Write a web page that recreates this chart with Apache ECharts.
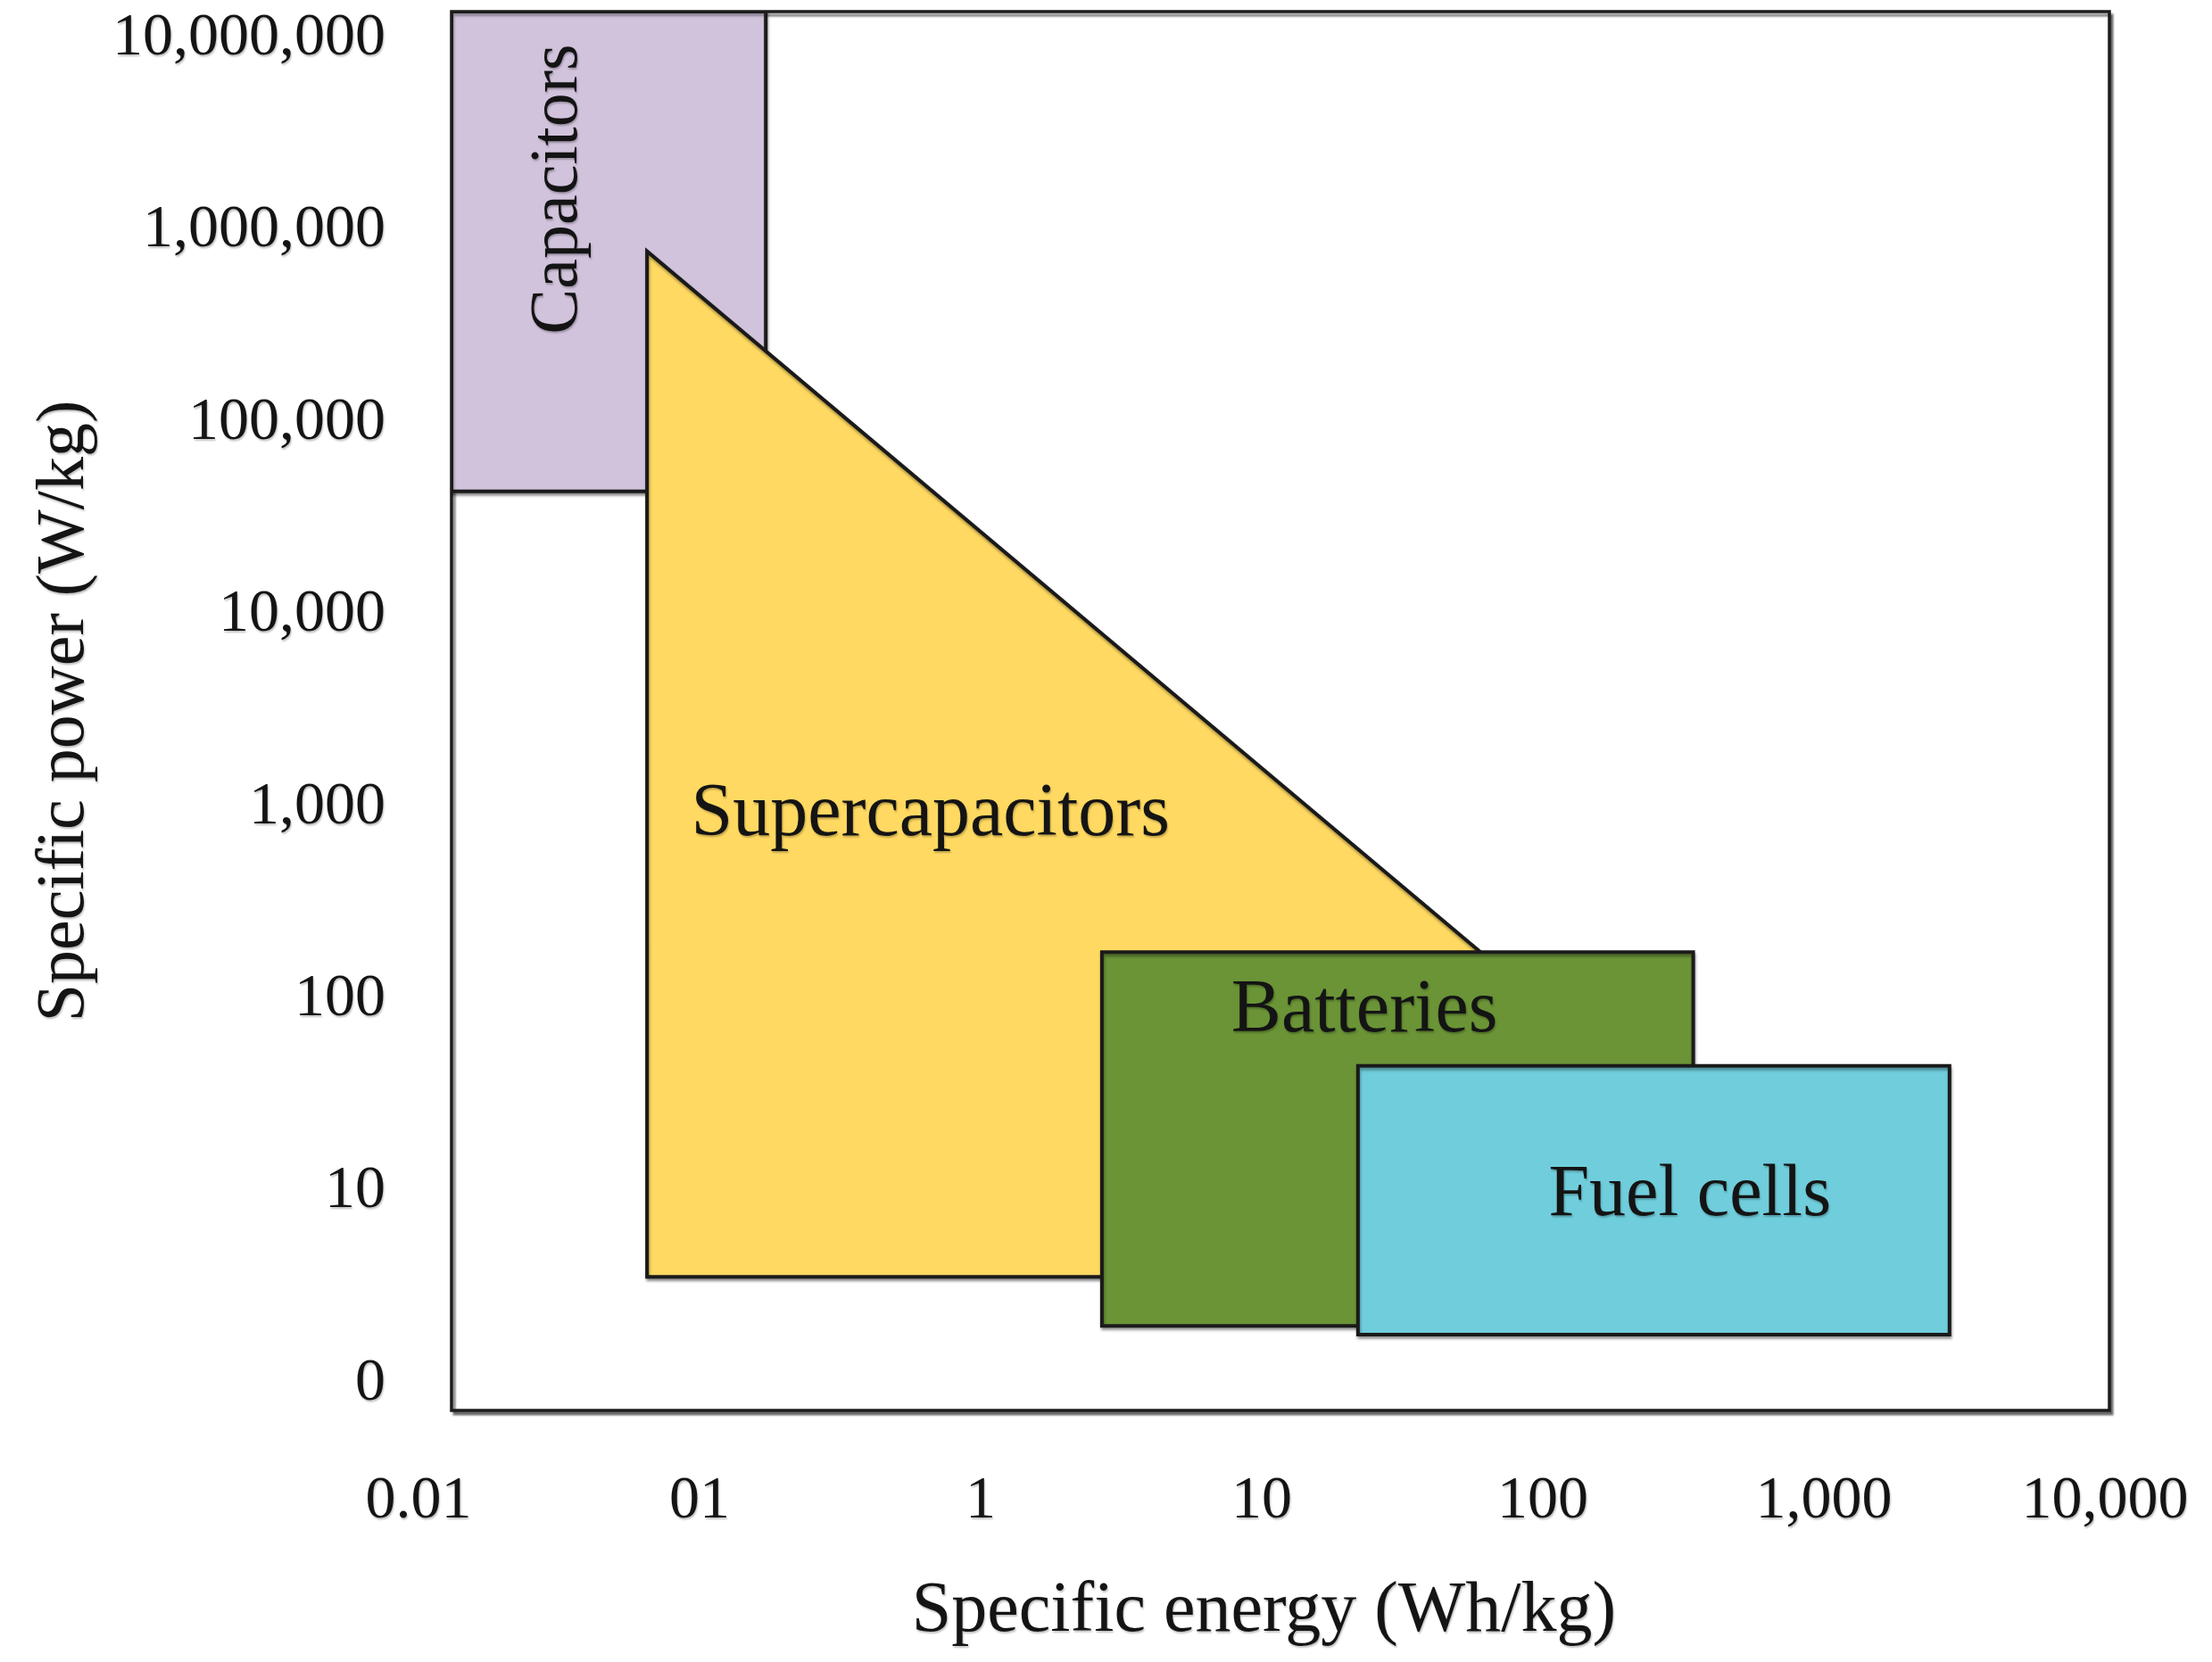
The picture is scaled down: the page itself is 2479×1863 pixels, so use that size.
<!DOCTYPE html>
<html><head><meta charset="utf-8">
<script src="https://cdn.jsdelivr.net/npm/echarts@6/dist/echarts.min.js"></script>
<style>html,body{margin:0;padding:0;background:#fff}#c{width:2479px;height:1863px}</style>
</head><body><div id="c"></div>
<script>
// ---- data (real units: energy Wh/kg, power W/kg) ----
const energyTickValues = [0.01, 0.1, 1, 10, 100, 1000, 10000];
const energyTickLabels = ['0.01', '01', '1', '10', '100', '1,000', '10,000'];
const powerTickValues = [1, 10, 100, 1000, 10000, 100000, 1000000, 10000000];
const powerTickLabels = ['0', '10', '100', '1,000', '10,000', '100,000', '1,000,000', '10,000,000'];
const energyExtent = [0.0131, 10375];   // plot frame left / right
const powerExtent = [0.726, 13770000];  // plot frame bottom / top
const technologies = ['Capacitors', 'Supercapacitors', 'Batteries', 'Fuel cells'];
// polygon vertices [energy, power]
const capacitors = [[0.0131, 13770000], [0.172, 13770000], [0.172, 44000], [0.0131, 44000]];
const supercapacitors = [[0.065, 780000], [60, 176], [60, 3.6], [0.065, 3.6]];
const batteries = [[2.7, 176], [343, 176], [343, 2.0], [2.7, 2.0]];
const fuelCells = [[22, 45], [2800, 45], [2800, 1.8], [22, 1.8]];

const L = Math.log10;
const FONT = '"Liberation Serif", "Times New Roman", serif';

const frame = { left: 506, top: 13, right: 2364, bottom: 1581 };
const xMin = L(energyExtent[0]), xMax = L(energyExtent[1]);
const pxPerDec = (frame.right - frame.left) / (xMax - xMin);
const labelAxisMin = L(energyTickValues[0]);
const grid1Left = frame.left - (xMin - labelAxisMin) * pxPerDec;

function fmtFrom(values, labels) {
  return function (v) {
    for (let i = 0; i < values.length; i++) if (Math.abs(L(values[i]) - v) < 1e-6) return labels[i];
    return '';
  };
}

const styles = [
  { fill: '#d1c3dc', fx: 0.34, fy: 0.37, size: 76, rot: Math.PI / 2 },
  { fill: '#ffd961', fx: 0.34, fy: 0.55, size: 84, rot: 0 },
  { fill: '#6a9436', fx: 0.444, fy: 0.16, size: 84, rot: 0 },
  { fill: '#70cedc', fx: 0.561, fy: 0.485, size: 82, rot: 0 }
];
const shapes = [capacitors, supercapacitors, batteries, fuelCells];

const series = shapes.map(function (verts, i) {
  const st = styles[i];
  return {
    type: 'custom',
    name: technologies[i],
    xAxisIndex: 0, yAxisIndex: 0,
    clip: true,
    z: 2 + i,
    data: [[L(verts[0][0]), L(verts[0][1])]],
    renderItem: function (params, api) {
      const pts = verts.map(v => api.coord([L(v[0]), L(v[1])]));
      const cs = params.coordSys;
      const xs = pts.map(p => p[0]), ys = pts.map(p => p[1]);
      const x0 = Math.max(Math.min(...xs), cs.x), x1 = Math.min(Math.max(...xs), cs.x + cs.width);
      const y0 = Math.max(Math.min(...ys), cs.y), y1 = Math.min(Math.max(...ys), cs.y + cs.height);
      return {
        type: 'group',
        children: [
          { type: 'polygon', shape: { points: pts },
            style: { fill: st.fill, stroke: '#1a1a1a', lineWidth: 4, lineJoin: 'miter',
              shadowBlur: 3, shadowOffsetX: 1, shadowOffsetY: 3, shadowColor: 'rgba(0,0,0,0.35)' } },
          { type: 'text', x: x0 + (x1 - x0) * st.fx, y: y0 + (y1 - y0) * st.fy, rotation: st.rot,
            style: { text: technologies[i], font: st.size + 'px ' + FONT, fill: '#141414',
              align: 'center', verticalAlign: 'middle',
              textShadowBlur: 2, textShadowColor: 'rgba(0,0,0,0.25)', textShadowOffsetX: 1, textShadowOffsetY: 2 } }
        ]
      };
    }
  };
});

const chart = echarts.init(document.getElementById('c'), null, { renderer: 'canvas' });
chart.setOption({
  backgroundColor: '#fff',
  animation: false,
  grid: [
    { left: frame.left, top: frame.top, width: frame.right - frame.left, height: frame.bottom - frame.top,
      show: true, backgroundColor: '#fff', borderColor: '#1c1c1c', borderWidth: 3.5,
      shadowColor: 'rgba(0,0,0,0.45)', shadowBlur: 2, shadowOffsetX: 3, shadowOffsetY: 4 },
    { left: grid1Left, top: frame.top, width: frame.right - grid1Left, height: frame.bottom - frame.top, show: false }
  ],
  xAxis: [
    { type: 'value', gridIndex: 0, min: xMin, max: xMax,
      axisLine: { show: false }, axisTick: { show: false }, axisLabel: { show: false }, splitLine: { show: false } },
    { type: 'value', gridIndex: 1, min: labelAxisMin, max: xMax,
      axisLine: { show: false }, axisTick: { show: false }, splitLine: { show: false },
      axisLabel: { customValues: energyTickValues.map(L), formatter: fmtFrom(energyTickValues, energyTickLabels),
        fontFamily: FONT, fontSize: 68, color: '#141414', margin: 68,
        textShadowBlur: 2, textShadowColor: 'rgba(0,0,0,0.25)', textShadowOffsetX: 1, textShadowOffsetY: 2 },
      name: 'Specific energy (Wh/kg)', nameLocation: 'middle', nameGap: 186,
      nameTextStyle: { fontFamily: FONT, fontSize: 80, color: '#141414',
        textShadowBlur: 2, textShadowColor: 'rgba(0,0,0,0.25)', textShadowOffsetX: 1, textShadowOffsetY: 2 } }
  ],
  yAxis: [
    { type: 'value', gridIndex: 0, min: L(powerExtent[0]), max: L(powerExtent[1]),
      axisLine: { show: false }, axisTick: { show: false }, splitLine: { show: false },
      axisLabel: { customValues: powerTickValues.map(L), formatter: fmtFrom(powerTickValues, powerTickLabels),
        fontFamily: FONT, fontSize: 68, color: '#141414', margin: 74,
        textShadowBlur: 2, textShadowColor: 'rgba(0,0,0,0.25)', textShadowOffsetX: 1, textShadowOffsetY: 2 },
      name: 'Specific power (W/kg)', nameLocation: 'middle', nameRotate: 90, nameGap: 395,
      nameTextStyle: { fontFamily: FONT, fontSize: 76, color: '#141414',
        textShadowBlur: 2, textShadowColor: 'rgba(0,0,0,0.25)', textShadowOffsetX: 1, textShadowOffsetY: 2 } },
    { type: 'value', gridIndex: 1, min: 0, max: 1, show: false }
  ],
  series: series
});
</script>
</body></html>
